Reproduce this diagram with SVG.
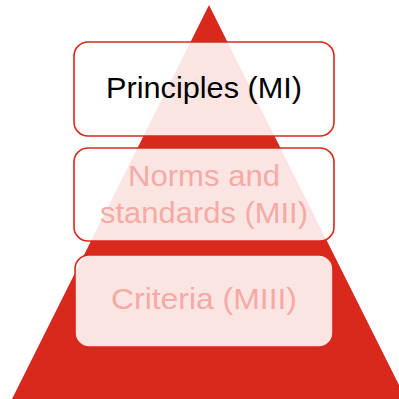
<svg xmlns="http://www.w3.org/2000/svg" width="399" height="399" viewBox="0 0 399 399">
  <style>
    .box { fill: #ffffff; fill-opacity: 0.88; stroke: #d9281c; stroke-width: 1.6; }
    .lbl { font-family: "Liberation Sans", Arial, sans-serif; font-size: 29px; text-anchor: middle; }
    .on { fill: #000000; }
    .off { fill: #f4aaa5; }
  </style>
  <rect width="399" height="399" fill="#ffffff"/>
  <!-- pyramid background -->
  <polygon id="pyramid" points="209,5 12,399 406,399" fill="#d9281c"/>
  <g id="connectors"/>
  <g id="level-1">
    <rect class="box" x="74" y="42" width="260" height="94" rx="14"/>
    <text class="lbl on" x="204" y="98" textLength="196" lengthAdjust="spacingAndGlyphs">Principles (MI)</text>
  </g>
  <g id="level-2">
    <rect class="box" x="74" y="148" width="260" height="93" rx="14"/>
    <text class="lbl off" x="204" y="186" textLength="152" lengthAdjust="spacingAndGlyphs">Norms and</text>
    <text class="lbl off" x="204" y="223" textLength="208" lengthAdjust="spacingAndGlyphs">standards (MII)</text>
  </g>
  <g id="level-3">
    <rect class="box" x="75" y="255" width="258" height="92" rx="14"/>
    <text class="lbl off" x="204" y="309" textLength="186" lengthAdjust="spacingAndGlyphs">Criteria (MIII)</text>
  </g>
</svg>
